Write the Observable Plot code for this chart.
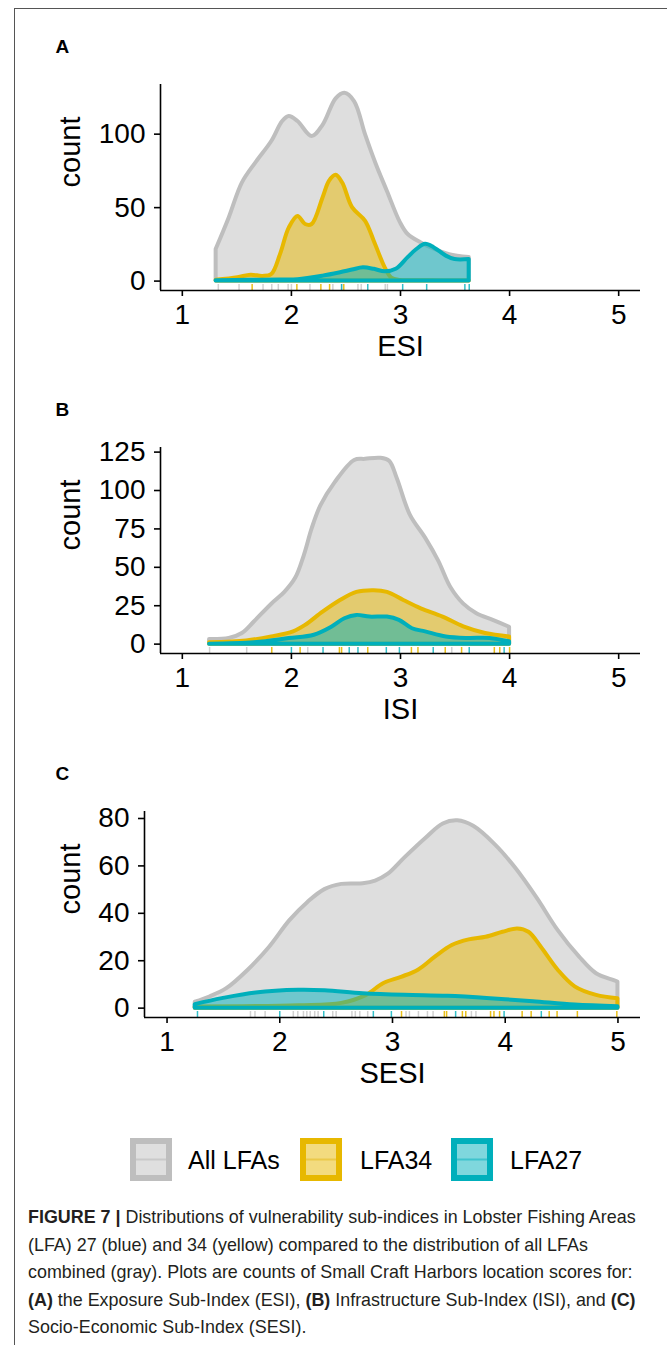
<!DOCTYPE html>
<html><head><meta charset="utf-8">
<script src="https://cdn.jsdelivr.net/npm/d3@7"></script>
<script src="https://cdn.jsdelivr.net/npm/@observablehq/plot@0.6"></script>
<style>
html,body{margin:0;padding:0;background:#fff;}
body{width:667px;height:1345px;position:relative;overflow:hidden;font-family:"Liberation Sans",Arial,sans-serif;}
#frame{position:absolute;left:14px;top:8px;width:700px;height:1400px;border-left:1.5px solid #555;border-top:1.5px solid #555;}
.panel{position:absolute;left:0;width:667px;}
.lg{position:absolute;}
.lgtext{position:absolute;font-size:25px;color:#000;line-height:30px;white-space:nowrap;}
#caption{position:absolute;left:28px;top:1204px;font-size:17.9px;line-height:27.6px;color:#231f20;white-space:nowrap;}
#caption b{font-weight:bold;}
</style></head><body>
<div id="frame"></div>
<div id="pA" class="panel" style="top:20px"></div>
<div id="pB" class="panel" style="top:383px"></div>
<div id="pC" class="panel" style="top:747px"></div>
<div id="legend"></div>
<div id="caption">
<div><b>FIGURE 7 |</b> Distributions of vulnerability sub-indices in Lobster Fishing Areas</div>
<div>(LFA) 27 (blue) and 34 (yellow) compared to the distribution of all LFAs</div>
<div>combined (gray). Plots are counts of Small Craft Harbors location scores for:</div>
<div><b>(A)</b> the Exposure Sub-Index (ESI), <b>(B)</b> Infrastructure Sub-Index (ISI), and <b>(C)</b></div>
<div>Socio-Economic Sub-Index (SESI).</div>
</div>
<script>
// ---- groups ----
const groups = ["All LFAs", "LFA34", "LFA27"];
const lineColors = ["#BEBEBE", "#E7B800", "#00AFBB"];
const xTicks = [1, 2, 3, 4, 5];

// ---- Panel A: ESI ----
const esiAllX = [1.31,1.43,1.55,1.68,1.82,1.92,1.98,2.06,2.19,2.29,2.41,2.49,2.58,2.68,2.78,2.88,3.0,3.07,3.19,3.3,3.45,3.63];
const esiAllY = [21.5,43,66.7,81,95,108.6,112,108.6,98.4,106,124,127.8,122,99.5,79,61,39.6,31.7,26,22,18,16];
const esi34X = [1.31,1.51,1.63,1.74,1.82,1.90,1.98,2.06,2.13,2.19,2.29,2.35,2.41,2.47,2.56,2.68,2.76,2.86,2.92,3.0,3.2,3.4,3.63];
const esi34Y = [0.5,2.3,4,3.2,4.5,18,36,44,38.5,38.5,56.6,68,72,66.7,50,40.7,27,9,2,0.5,0.2,0.1,0];
const esi27X = [1.31,1.6,1.9,2.06,2.29,2.45,2.56,2.66,2.76,2.86,2.96,3.07,3.15,3.23,3.31,3.42,3.5,3.63];
const esi27Y = [0.3,0.5,0.8,1,3.4,5.7,7.5,9,8,6.3,8,16,21.5,25,22.6,17,14.7,14.7];
const esiRugAll = [1.33,1.52,1.74,1.82,1.88,1.97,2.0,2.17,2.38,2.46,2.61,2.64,2.86,2.88];
const esiRug34 = [1.64,2.05,2.27,2.35,2.48];
const esiRug27 = [2.46,2.70,3.02,3.24,3.59,3.63];
const esiYTicks = [0, 50, 100];
const esiYDomain = [-6.4, 133.8];

// ---- Panel B: ISI ----
const isiAllX = [1.25,1.43,1.55,1.66,1.82,1.94,2.04,2.12,2.19,2.27,2.40,2.58,2.68,2.82,2.90,2.97,3.09,3.23,3.35,3.46,3.58,3.70,3.85,4.0];
const isiAllY = [3,3.7,6.9,14.4,26,33.7,43,58,75,90,105,119.6,120.3,121,119,107.8,84,69,54,37,26,19.8,15.5,11];
const isi34X = [1.25,1.59,1.82,2.02,2.13,2.29,2.45,2.60,2.76,2.88,3.03,3.19,3.39,3.58,3.78,4.0];
const isi34Y = [0.9,2.1,4.7,8,12.2,20.8,28.4,33.7,34.8,33.7,28.4,23,17.6,11.2,6.9,4.7];
const isi27X = [1.25,1.66,1.98,2.21,2.37,2.49,2.60,2.72,2.88,2.99,3.11,3.23,3.42,3.62,3.82,4.0];
const isi27Y = [0,0.9,3.6,5.8,11,16.5,18.7,17.6,17.6,15.5,10,8,4.7,3.7,3.7,1.5];
const isiRugAll = [1.25,1.59,2.15,3.47];
const isiRug34 = [1.82,2.08,2.44,2.46,2.70,3.10,3.16,3.41,3.56,3.86,3.91,4.0];
const isiRug27 = [2.0,2.29,2.53,2.61,2.87,2.99,3.30,3.63,3.95];
const isiYTicks = [0, 25, 50, 75, 100, 125];
const isiYDomain = [-6.1, 128];

// ---- Panel C: SESI ----
const sesiAllX = [1.25,1.38,1.53,1.72,1.91,2.09,2.25,2.40,2.55,2.74,2.85,2.96,3.11,3.30,3.45,3.58,3.72,3.91,4.09,4.28,4.47,4.66,4.81,4.96,5.0];
const sesiAllY = [2.5,4.7,8.2,16,25.7,36.9,44.6,50,52.2,52.5,53.6,56.4,63.4,71.8,77.7,79,76.7,69,59.2,46.6,32.7,21.5,14.5,11.7,11];
const sesi34X = [1.25,2.17,2.55,2.77,2.92,3.08,3.23,3.38,3.53,3.68,3.83,3.98,4.11,4.21,4.32,4.47,4.62,4.81,5.0];
const sesi34Y = [0.5,1,2,5.4,10.3,13,16,21.5,26.4,28.8,29.9,32,33.4,32,25.7,16,9,5.4,4];
const sesi27X = [1.25,1.49,1.79,2.17,2.40,2.74,3.11,3.49,3.87,4.25,4.62,5.0];
const sesi27Y = [1.5,4,6.4,7.5,7.3,6.1,5.4,5,4,2.7,1.3,0.6];
const sesiRugAll = [1.74,1.78,1.87,2.12,2.16,2.21,2.24,2.27,2.31,2.34,2.47,2.50,2.64,2.67,2.71,2.78,3.12,3.15,3.23,3.31,3.36,3.70,3.74];
const sesiRug34 = [3.08,3.46,3.48,3.62,3.65,3.87,3.90,3.95,4.15,4.23,4.39,4.46,4.64,4.99];
const sesiRug27 = [1.27,2.0,2.39,2.83,2.99,3.56,3.99,4.32];
const sesiYTicks = [0, 20, 40, 60, 80];
const sesiYDomain = [-3.95, 82.95];

const H = 350, MT = 64, MB = 80, MR = 27;

function toRows(xs, ys) { return xs.map((x, i) => ({x, y: ys[i]})); }

function panel({el, letter, xlabel, series, rugs, yTicks, yDomain, marginLeft}) {
  const marks = [];
  series.forEach(([xs, ys], i) => {
    marks.push(Plot.areaY(toRows(xs, ys), {
      x: "x", y: "y", fill: lineColors[i], fillOpacity: 0.5,
      stroke: lineColors[i], strokeWidth: 4, strokeLinejoin: "round", curve: "catmull-rom"
    }));
  });
  const rugOpacity = [0.7, 0.9, 0.8];
  rugs.forEach((r, i) => {
    marks.push(Plot.tickX(r, {x: d => d, stroke: lineColors[i], strokeOpacity: rugOpacity[i], strokeWidth: 1.5, insetTop: (H - MT - MB) - 6}));
  });
  marks.push(Plot.ruleY([yDomain[0]], {stroke: "black", strokeWidth: 1.6}));
  marks.push(Plot.ruleX([0.8], {stroke: "black", strokeWidth: 1.6}));
  marks.push(Plot.axisX({ticks: xTicks, tickFormat: d3.format("d"), tickSize: 6, tickPadding: 8, fontSize: 28, label: null, strokeWidth: 1.6}));
  marks.push(Plot.axisY({ticks: yTicks, tickFormat: d3.format("d"), tickSize: 6, tickPadding: 9, fontSize: 28, label: null, strokeWidth: 1.6}));
  marks.push(Plot.text([xlabel], {text: d => d, frameAnchor: "bottom", dy: 65, fontSize: 29}));
  marks.push(Plot.text(["count"], {text: d => d, frameAnchor: "left", dx: 70 - marginLeft, rotate: -90, fontSize: 29}));
  marks.push(Plot.text([letter], {text: d => d, frameAnchor: "top-left", dx: 55 - marginLeft, dy: 19 - MT, textAnchor: "start", fontWeight: "bold", fontSize: 19}));
  const chart = Plot.plot({
    width: 667, height: H,
    marginLeft, marginRight: MR, marginTop: MT, marginBottom: MB,
    x: {domain: [0.8, 5.2]},
    y: {domain: yDomain},
    style: {fontFamily: "Liberation Sans, Arial, sans-serif", color: "black", background: "transparent", overflow: "visible"},
    marks
  });
  document.getElementById(el).appendChild(chart);
}

panel({el: "pA", letter: "A", xlabel: "ESI",
  series: [[esiAllX, esiAllY], [esi34X, esi34Y], [esi27X, esi27Y]],
  rugs: [esiRugAll, esiRug34, esiRug27], yTicks: esiYTicks, yDomain: esiYDomain, marginLeft: 160});
panel({el: "pB", letter: "B", xlabel: "ISI",
  series: [[isiAllX, isiAllY], [isi34X, isi34Y], [isi27X, isi27Y]],
  rugs: [isiRugAll, isiRug34, isiRug27], yTicks: isiYTicks, yDomain: isiYDomain, marginLeft: 160});
panel({el: "pC", letter: "C", xlabel: "SESI",
  series: [[sesiAllX, sesiAllY], [sesi34X, sesi34Y], [sesi27X, sesi27Y]],
  rugs: [sesiRugAll, sesiRug34, sesiRug27], yTicks: sesiYTicks, yDomain: sesiYDomain, marginLeft: 144});

// ---- legend ----
const legendKeyX = [130, 300, 451];
const legendTextX = [188, 360, 510];
const legendInner = ["#dfdfdf", "#f3db7f", "#7fd7dd"];
const legendMid = ["#c9c9c9", "#ebc94a", "#3fc3cc"];
const lg = document.getElementById("legend");
groups.forEach((g, i) => {
  const ns = "http://www.w3.org/2000/svg";
  const svg = document.createElementNS(ns, "svg");
  svg.setAttribute("width", 42); svg.setAttribute("height", 43);
  svg.setAttribute("class", "lg");
  svg.style.left = legendKeyX[i] + "px"; svg.style.top = "1138px";
  const r = document.createElementNS(ns, "rect");
  r.setAttribute("x", 3); r.setAttribute("y", 3); r.setAttribute("width", 36); r.setAttribute("height", 37);
  r.setAttribute("fill", legendInner[i]); r.setAttribute("stroke", lineColors[i]); r.setAttribute("stroke-width", 6);
  svg.appendChild(r);
  const l = document.createElementNS(ns, "line");
  l.setAttribute("x1", 6); l.setAttribute("x2", 36); l.setAttribute("y1", 21.5); l.setAttribute("y2", 21.5);
  l.setAttribute("stroke", legendMid[i]); l.setAttribute("stroke-width", 2);
  svg.appendChild(l);
  lg.appendChild(svg);
  const t = document.createElement("div");
  t.className = "lgtext"; t.textContent = g;
  t.style.left = legendTextX[i] + "px"; t.style.top = "1145px";
  lg.appendChild(t);
});
</script>
</body></html>
